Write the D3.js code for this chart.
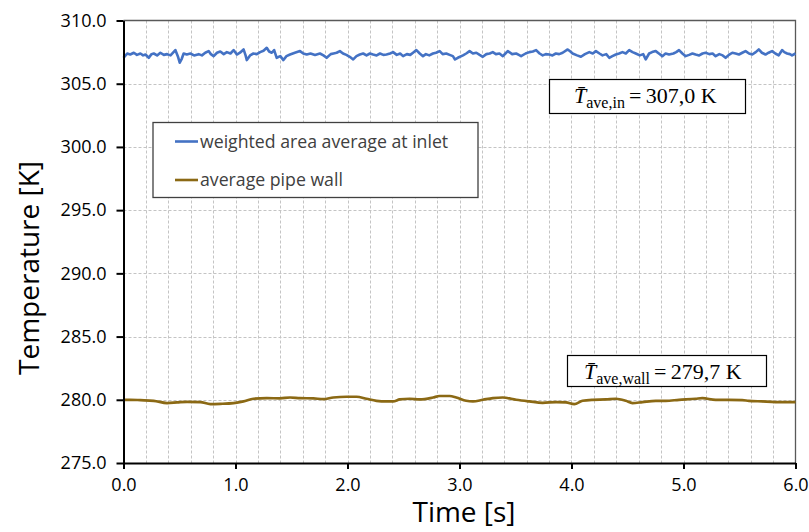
<!DOCTYPE html>
<html>
<head>
<meta charset="utf-8">
<script src="https://cdn.jsdelivr.net/npm/d3@7/dist/d3.min.js"></script>
<style>
  html, body { margin: 0; padding: 0; background: #fff; }
  svg { display: block; }
</style>
</head>
<body>
<svg id="chart" width="809" height="532"></svg>
<script>
// Inlet temperature (weighted area average), time [s] and value [K]
const inletTime = [0.000,0.033,0.060,0.092,0.120,0.151,0.175,0.196,0.226,0.250,0.270,0.300,0.329,0.360,0.389,0.420,0.463,0.485,0.502,0.520,
  0.537,0.565,0.597,0.630,0.671,0.700,0.730,0.760,0.780,0.805,0.835,0.864,0.895,0.923,0.955,0.983,1.012,1.040,1.072,1.090,
  1.101,1.130,1.160,1.190,1.220,1.250,1.279,1.300,1.324,1.345,1.368,1.400,1.428,1.455,1.487,1.530,1.576,1.605,1.636,1.670,
  1.710,1.754,1.785,1.814,1.850,1.875,1.903,1.932,1.960,1.990,2.020,2.051,2.080,2.110,2.140,2.170,2.200,2.229,2.260,2.290,
  2.320,2.348,2.380,2.407,2.440,2.470,2.496,2.530,2.560,2.585,2.615,2.645,2.674,2.700,2.730,2.763,2.790,2.823,2.850,2.882,
  2.912,2.941,2.960,2.985,3.031,3.060,3.090,3.120,3.150,3.180,3.208,3.240,3.270,3.297,3.325,3.357,3.387,3.410,3.431,3.470,
  3.506,3.530,3.550,3.590,3.624,3.655,3.684,3.715,3.743,3.770,3.802,3.830,3.860,3.890,3.921,3.966,3.990,4.010,4.050,4.084,
  4.120,4.159,4.190,4.218,4.250,4.277,4.310,4.337,4.365,4.396,4.425,4.455,4.485,4.515,4.545,4.574,4.610,4.640,4.663,4.693,
  4.720,4.752,4.780,4.811,4.840,4.871,4.910,4.935,4.960,4.990,5.019,5.050,5.080,5.108,5.140,5.170,5.198,5.230,5.260,5.287,
  5.320,5.350,5.376,5.405,5.436,5.465,5.495,5.525,5.554,5.585,5.614,5.645,5.672,5.700,5.732,5.760,5.791,5.820,5.850,5.865,
  5.880,5.900,5.925,5.950,5.969,6.000];
const inletTemp = [307.05,307.39,307.31,307.45,307.28,307.39,307.24,307.31,307.05,307.34,307.39,307.24,307.45,307.28,307.34,307.24,307.66,307.18,306.66,306.97,
  307.39,307.31,307.39,307.24,307.34,307.24,307.45,307.58,307.34,307.18,307.45,307.55,307.34,307.50,307.39,307.66,307.31,307.45,307.71,307.24,
  306.87,307.24,307.39,307.34,307.50,307.61,307.84,307.55,307.45,307.66,307.05,307.18,306.87,307.18,307.31,307.45,307.58,307.39,307.31,307.39,
  307.28,307.39,307.24,307.05,307.34,307.39,307.45,307.58,307.39,307.28,307.13,306.92,307.18,307.31,307.39,307.24,307.39,307.31,307.24,307.39,
  307.28,307.31,307.39,307.50,307.28,307.39,307.18,307.34,307.28,307.45,307.66,307.39,307.18,307.34,307.24,307.39,307.45,307.58,307.34,307.39,
  307.28,307.18,306.92,307.05,307.24,307.39,307.58,307.39,307.45,307.28,307.13,307.34,307.39,307.50,307.34,307.39,307.18,307.39,307.58,307.34,
  307.39,307.28,307.18,307.39,307.50,307.55,307.66,307.39,307.24,307.34,307.31,307.24,307.39,307.34,307.45,307.71,307.55,307.39,307.24,307.13,
  307.34,307.50,307.39,307.58,307.39,307.24,307.34,307.05,307.18,307.31,307.39,307.50,307.39,307.66,307.50,307.39,307.24,307.34,306.92,307.39,
  307.50,307.58,307.39,307.18,307.39,307.31,307.39,307.50,307.66,307.39,307.18,307.28,307.39,307.31,307.24,307.39,307.45,307.34,307.39,307.18,
  307.34,307.24,307.05,307.28,307.45,307.39,307.31,307.45,307.58,307.39,307.31,307.50,307.71,307.45,307.31,307.45,307.58,307.39,307.24,307.45,
  307.66,307.50,307.39,307.34,307.24,307.39];

// Average pipe wall temperature, time [s] and value [K]
const wallTime = [0.000,0.062,0.151,0.270,0.389,0.478,0.567,0.686,0.775,0.864,0.982,1.071,1.160,1.279,1.398,1.487,1.576,1.695,1.784,1.873,
  1.992,2.081,2.170,2.259,2.348,2.407,2.467,2.556,2.645,2.763,2.822,2.912,2.971,3.060,3.120,3.209,3.298,3.387,3.506,3.624,
  3.743,3.862,3.951,4.025,4.099,4.188,4.307,4.396,4.485,4.544,4.633,4.752,4.841,4.960,5.108,5.168,5.287,5.405,5.524,5.583,
  5.702,5.821,5.969,6.000];
const wallTemp = [280.00,280.00,279.97,279.92,279.74,279.79,279.84,279.82,279.66,279.68,279.74,279.87,280.08,280.13,280.11,280.18,280.13,280.11,280.05,280.18,
  280.24,280.24,280.08,279.92,279.87,279.87,280.03,280.08,280.03,280.18,280.30,280.30,280.18,279.92,279.87,280.00,280.13,280.18,280.00,279.87,
  279.76,279.82,279.79,279.66,279.92,280.00,280.03,280.08,279.92,279.74,279.82,279.92,279.92,280.00,280.08,280.13,280.00,280.00,279.97,279.92,
  279.87,279.82,279.82,279.82];

// Axis ticks
const xTicks = [0, 1, 2, 3, 4, 5, 6];
const xMinorGrid = d3.range(1, 30).map(i => i * 0.2);
const yTicks = [275, 280, 285, 290, 295, 300, 305, 310];

// Series names and annotated means
const seriesNames = ["weighted area average at inlet", "average pipe wall"];
const seriesColors = ["#4472C4", "#8B6914"];
const meanLabels = [
  { sub: "ave,in", value: "307,0 K" },
  { sub: "ave,wall", value: "279,7 K" }
];

const svg = d3.select("#chart");
const plot = { left: 123.5, right: 795.5, top: 20.5, bottom: 463 };

const x = d3.scaleLinear().domain([0, 6]).range([plot.left, plot.right]);
const y = d3.scaleLinear().domain([275, 310]).range([plot.bottom, plot.top]);

const sans = "'Open Sans', 'Noto Sans', sans-serif";
const serif = "'Liberation Serif', 'DejaVu Serif', serif";

// Grid lines
const grid = svg.append("g").attr("stroke", "#c4c4c4").attr("stroke-width", 1).attr("stroke-dasharray", "3,2");
grid.selectAll("line.v").data(xMinorGrid).join("line")
  .attr("x1", d => Math.round(x(d)) + 0.5).attr("x2", d => Math.round(x(d)) + 0.5)
  .attr("y1", plot.top).attr("y2", plot.bottom);
grid.selectAll("line.h").data(yTicks.filter(v => v > 275 && v < 310)).join("line")
  .attr("x1", plot.left).attr("x2", plot.right)
  .attr("y1", d => Math.round(y(d)) + 0.5).attr("y2", d => Math.round(y(d)) + 0.5);

// Plot area frame (top and right)
svg.append("path")
  .attr("d", `M${plot.left},${plot.top}H${plot.right}V${plot.bottom}`)
  .attr("fill", "none").attr("stroke", "#595959").attr("stroke-width", 1.3);

// Series lines
const inletData = inletTime.map((t, i) => [t, inletTemp[i]]);
const wallData = wallTime.map((t, i) => [t, wallTemp[i]]);

svg.append("path").datum(inletData)
  .attr("fill", "none").attr("stroke", seriesColors[0]).attr("stroke-width", 2.6)
  .attr("stroke-linejoin", "round")
  .attr("d", d3.line().x(d => x(d[0])).y(d => y(d[1])));

svg.append("path").datum(wallData)
  .attr("fill", "none").attr("stroke", seriesColors[1]).attr("stroke-width", 2.7)
  .attr("stroke-linejoin", "round")
  .attr("d", d3.line().curve(d3.curveMonotoneX).x(d => x(d[0])).y(d => y(d[1])));

// Axes
const yAxis = svg.append("g").attr("transform", `translate(${plot.left},0)`)
  .call(d3.axisLeft(y).tickValues(yTicks).tickFormat(d3.format(".1f")).tickSize(7).tickSizeOuter(0).tickPadding(10));
const xAxis = svg.append("g").attr("transform", `translate(0,${plot.bottom})`)
  .call(d3.axisBottom(x).tickValues(xTicks).tickFormat(d3.format(".1f")).tickSize(6).tickSizeOuter(0).tickPadding(9));

[yAxis, xAxis].forEach(a => {
  a.select(".domain").attr("stroke", "#000").attr("stroke-width", 2);
  a.selectAll(".tick line").attr("stroke", "#000").attr("stroke-width", 2);
  a.selectAll(".tick text").attr("fill", "#000").style("font-family", sans).style("font-size", "18px");
});

// Axis titles
svg.append("text")
  .attr("x", 464).attr("y", 522)
  .attr("text-anchor", "middle")
  .style("font-family", sans).style("font-size", "28px").attr("fill", "#000")
  .text("Time [s]");

svg.append("text")
  .attr("transform", "translate(39,268) rotate(-90)")
  .attr("text-anchor", "middle")
  .style("font-family", sans).style("font-size", "28px").attr("fill", "#000")
  .text("Temperature [K]");

// Legend
const legend = svg.append("g");
legend.append("rect")
  .attr("x", 153).attr("y", 122.5).attr("width", 325).attr("height", 75)
  .attr("fill", "#fff").attr("stroke", "#404040").attr("stroke-width", 1.3);
seriesNames.forEach((name, i) => {
  const ly = 141.5 + i * 38.5;
  legend.append("line")
    .attr("x1", 175).attr("x2", 198).attr("y1", ly).attr("y2", ly)
    .attr("stroke", seriesColors[i]).attr("stroke-width", 2.6);
  legend.append("text")
    .attr("x", 200).attr("y", ly + 6)
    .style("font-family", sans).style("font-size", "17.7px").attr("fill", "#404040")
    .text(name);
});

// Mean value annotations
const boxes = [
  { x: 549.5, y: 79.5, w: 196, h: 34, tx: 574, ty: 103 },
  { x: 567.5, y: 355.5, w: 199, h: 31, tx: 584, ty: 379 }
];
boxes.forEach((b, i) => {
  const g = svg.append("g");
  g.append("rect").attr("x", b.x).attr("y", b.y).attr("width", b.w).attr("height", b.h)
    .attr("fill", "#fff").attr("stroke", "#000").attr("stroke-width", 1.2);
  const t = g.append("text").attr("x", b.tx).attr("y", b.ty)
    .style("font-family", serif).style("font-size", "22px").attr("fill", "#000");
  t.append("tspan").style("font-style", "italic").text("T\u0304");
  t.append("tspan").attr("dy", 5).style("font-size", "16px").text(meanLabels[i].sub);
  t.append("tspan").attr("dy", -5).attr("dx", 4).text("=\u2009" + meanLabels[i].value);
});
</script>
</body>
</html>
